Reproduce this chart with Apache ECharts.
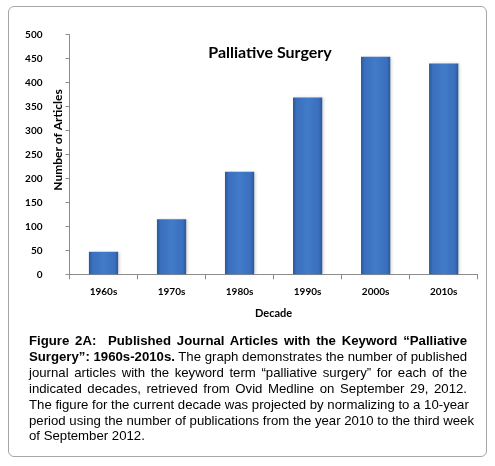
<!DOCTYPE html>
<html>
<head>
    <meta charset="utf-8">
    <title>Palliative Surgery</title>
    <script src="https://cdn.jsdelivr.net/npm/echarts@6/dist/echarts.min.js"></script>
    <style>
        body { margin: 0; background: #fff; }
        #frame { position: absolute; left: 8px; top: 6px; width: 479px; height: 451px;
                 border: 1px solid #a6a6a6; border-radius: 6px; box-sizing: border-box; }
        #chart { position: absolute; left: 0; top: 0; width: 495px; height: 466px; }
        #caption { position: absolute; left: 29px; top: 333px; width: 438px;
                   font-family: "Liberation Sans", Arial, sans-serif; font-size: 13.2px;
                   line-height: 15.9px; color: #000; }
        #caption div { text-align: justify; text-align-last: justify; white-space: nowrap; }
        #caption div.last { text-align-last: left; }
    </style>
</head>
<body>
    <div id="frame"></div>
    <div id="chart"></div>
    <div id="caption">
        <div><b>Figure 2A:&nbsp; Published Journal Articles with the Keyword “Palliative</b></div>
        <div><b>Surgery”: 1960s-2010s.</b> The graph demonstrates the number of published</div>
        <div>journal articles with the keyword term “palliative surgery” for each of the</div>
        <div>indicated decades, retrieved from Ovid Medline on September 29, 2012.</div>
        <div>The figure for the current decade was projected by normalizing to a 10-year</div>
        <div>period using the number of publications from the year 2010 to the third week</div>
        <div class="last">of September 2012.</div>
    </div>
    <script type="text/javascript">
        // 数据
        var decades = ['1960s', '1970s', '1980s', '1990s', '2000s', '2010s'];
        var articles = [47, 115, 214, 369, 454, 440];
        var yTicks = [0, 50, 100, 150, 200, 250, 300, 350, 400, 450, 500];

        var chart = echarts.init(document.getElementById('chart'));
        var labelFont = { fontFamily: 'Lato', fontWeight: 'bold', fontSize: 10, color: '#000' };

        var option = {
            animation: false,
            grid: { left: 69.5, right: 17.3, top: 34.7, bottom: 191.7 },
            xAxis: {
                type: 'category',
                data: decades,
                name: 'Decade',
                nameLocation: 'middle',
                nameGap: 34,
                nameTextStyle: { fontFamily: 'Lato', fontWeight: 'bold', fontSize: 11, color: '#000' },
                axisLine: { lineStyle: { color: '#8c8c8c', width: 1 } },
                axisTick: { show: true, alignWithLabel: false, length: 5, lineStyle: { color: '#8c8c8c' } },
                axisLabel: Object.assign({ margin: 12 }, labelFont)
            },
            yAxis: {
                type: 'value',
                min: yTicks[0],
                max: yTicks[yTicks.length - 1],
                interval: 50,
                splitLine: { show: false },
                axisLine: { show: true, lineStyle: { color: '#8c8c8c', width: 1 } },
                axisTick: { show: true, length: 4, lineStyle: { color: '#8c8c8c' } },
                axisLabel: Object.assign({ margin: 27 }, labelFont)
            },
            graphic: [
                {
                    type: 'text', x: 270, y: 53,
                    style: { text: 'Palliative Surgery', fontFamily: 'Lato', fontWeight: 'bold',
                             fontSize: 16, fill: '#000', align: 'center', verticalAlign: 'middle' }
                },
                {
                    type: 'text', x: 58, y: 140, rotation: Math.PI / 2,
                    style: { text: 'Number of Articles', fontFamily: 'Lato', fontWeight: 'bold',
                             fontSize: 12, fill: '#000', align: 'center', verticalAlign: 'middle' }
                }
            ],
            series: [{
                type: 'bar',
                data: articles,
                barWidth: '43%',
                itemStyle: {
                    color: new echarts.graphic.LinearGradient(0, 0, 1, 0, [
                        { offset: 0, color: '#2b5797' },
                        { offset: 0.12, color: '#3a6fbd' },
                        { offset: 0.5, color: '#417bc9' },
                        { offset: 0.88, color: '#3a6fbd' },
                        { offset: 1, color: '#2b5797' }
                    ]),
                    shadowColor: 'rgba(0,0,0,0.18)',
                    shadowBlur: 3,
                    shadowOffsetX: 2
                }
            }]
        };
        chart.setOption(option);
    </script>
</body>
</html>
